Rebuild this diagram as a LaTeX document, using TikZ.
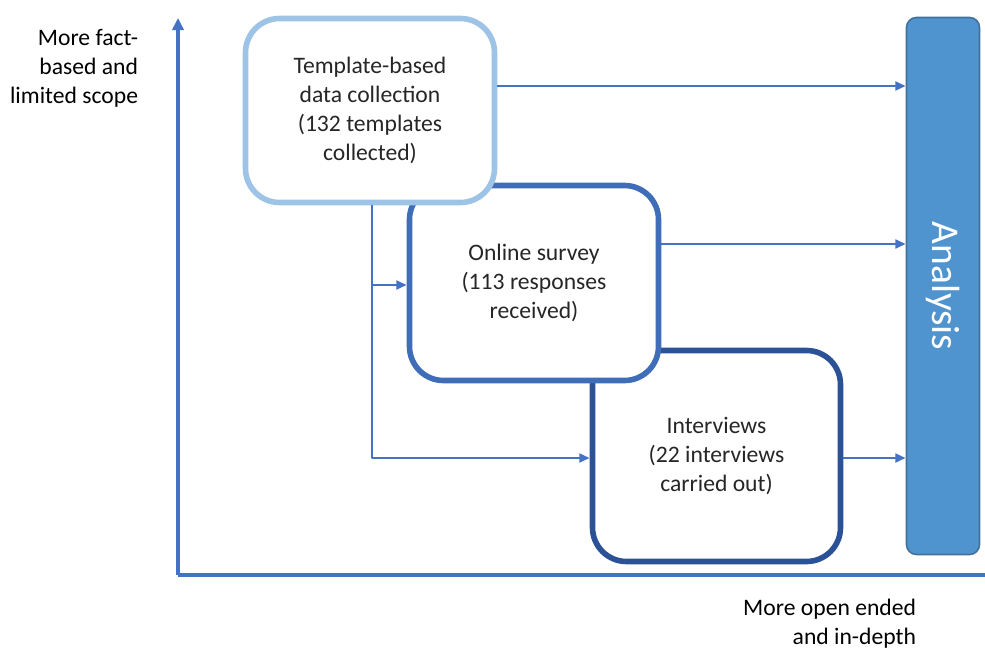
\documentclass[tikz,border=0pt]{standalone}
\usepackage{fontspec}
\setmainfont{Carlito}
\usetikzlibrary{arrows.meta}
\definecolor{lineblue}{HTML}{4472C4}
\definecolor{paleblue}{HTML}{9DC3E6}
\definecolor{midblue}{HTML}{3F6DB8}
\definecolor{deepblue}{HTML}{2B5197}
\definecolor{anafill}{HTML}{4F94CF}
\definecolor{anaedge}{HTML}{41719C}
\begin{document}
\begin{tikzpicture}[x=0.025cm,y=-0.025cm,line join=round,
	font=\fontsize{16.8}{20.5}\selectfont,
	box/.style={draw,fill=white,line width=0.14cm,rounded corners=0.85cm,align=center,text=black!85,inner sep=0pt},
	flow/.style={draw=lineblue,line width=0.065cm,-{Triangle[length=0.26cm,width=0.22cm]}}]
	\useasboundingbox (0,0) rectangle (985,650);
	% axes
	\draw[lineblue,line width=0.085cm,-{Triangle[length=0.3cm,width=0.28cm]}] (178,575)--(178,18);
	\draw[lineblue,line width=0.085cm] (178,575)--(985,575);
	\node[anchor=east,align=right] (ylab) at (143,68) {More fact-\\based and\\limited scope};
	\node[anchor=east,align=right] (xlab) at (921,624) {More open ended\\and in-depth};
	% boxes, back to front
	\node[box,draw=deepblue,minimum width=248*0.025cm,minimum height=211*0.025cm] (ivw) at (716.5,456) {Interviews\\(22 interviews\\carried out)};
	\node[box,draw=midblue,minimum width=249*0.025cm,minimum height=195*0.025cm] (srv) at (534,283) {Online survey\\(113 responses\\received)};
	\node[box,draw=paleblue,minimum width=249*0.025cm,minimum height=184*0.025cm] (tmpl) at (370,110.5) {Template-based\\data collection\\(132 templates\\collected)};
	\node[draw=anaedge,line width=0.04cm,fill=anafill,rounded corners=0.25cm,minimum width=73*0.025cm,minimum height=537*0.025cm,inner sep=0pt] (ana) at (943,286) {};
	\node[rotate=-90,text=white,font=\fontsize{28}{30}\selectfont] (anatxt) at (ana.center) {Analysis};
	% connectors
	\draw[flow] (tmpl.east|-0,86)--(ana.west|-0,86);
	\draw[flow] (srv.east|-0,244)--(ana.west|-0,244);
	\draw[flow] (ivw.east|-0,458)--(ana.west|-0,458);
	\coordinate (split) at (372,285);
	\draw[draw=lineblue,line width=0.065cm] (tmpl.south-|split)--(split);
	\draw[flow] (split)--(srv.west|-split);
	\draw[flow] (split)--(372,458)--(ivw.west|-0,458);
\end{tikzpicture}
\end{document}
